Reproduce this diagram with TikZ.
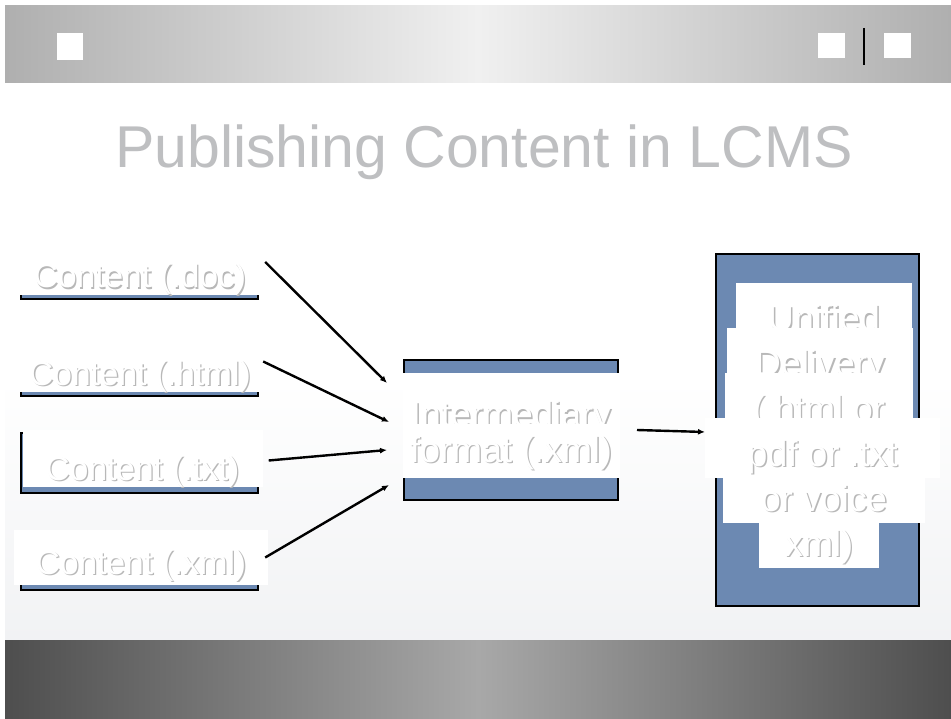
\documentclass[tikz,border=0pt]{standalone}
\usepackage{fontspec}
\setmainfont{Liberation Sans}
\usetikzlibrary{arrows.meta}
\definecolor{boxblue}{HTML}{6C89B2}
\definecolor{titlegray}{HTML}{BEBFC1}
\definecolor{shadowgray}{HTML}{B8B8B8}
\definecolor{barlight}{HTML}{F0F0F0}
\definecolor{bardark}{HTML}{AFAFAF}
\definecolor{footlight}{HTML}{A8A8A8}
\definecolor{footdark}{HTML}{4E4E4E}
\definecolor{slidegray}{HTML}{F1F2F4}
% white letters with a soft grey shadow
\newcommand{\emb}[1]{\rlap{\kern1.3pt\raisebox{-1.3pt}{\color{shadowgray}#1}}{\color{white}#1}}

\begin{document}
\begin{tikzpicture}[x=1pt,y=-1pt,
  bluebox/.style={draw=black,line width=2pt,fill=boxblue},
  cbox/.style={fill=white,inner sep=0pt,anchor=base,minimum width=240pt,
    text height=40pt,text depth=7pt,font=\fontsize{33.5}{34}\selectfont},
  lbox/.style={fill=white,inner sep=0pt,anchor=base,
    text height=48pt,text depth=9pt,font=\fontsize{36}{36}\selectfont},
  arr/.style={line width=2.4pt,-{Latex[length=7pt,width=6pt]}}]
  \useasboundingbox (0,0) rectangle (951,719);
  % slide background
  \fill[white] (0,0) rectangle (951,719);
  \shade[top color=white,bottom color=slidegray] (5,380) rectangle (951,640);
  % title bar and footer
  \shade[left color=bardark,right color=bardark,middle color=barlight] (5,6) rectangle (951,83);
  \fill[white] (57,33) rectangle (83,60);
  \foreach \x in {818,884}{
    \fill[white] (\x,33) rectangle (\x+27,58);
  }
  \draw[line width=2pt] (864,28) -- (864,65);
  \shade[left color=footdark,right color=footdark,middle color=footlight] (5,640) rectangle (951,719);
  \node[text=titlegray,anchor=base,font=\fontsize{59}{60}\selectfont] (title) at (484,168) {Publishing Content in LCMS};

  % source files
  \draw[bluebox] (21,256) rectangle (258,299);
  \draw[bluebox] (21,353) rectangle (258,396);
  \draw[bluebox] (21,433) rectangle (258,493);
  \draw[bluebox] (21,540) rectangle (258,590);
  \node[cbox] (doc) at (140,288) {\emb{Content (.doc)}};
  \node[cbox] (html) at (140,385) {\emb{Content (.html)}};
  \node[cbox,text height=50pt] (txt) at (142.5,480) {\emb{Content (.txt)}};
  \node[cbox,minimum width=254pt,text height=44pt,text depth=11pt] (xml) at (141,574) {\emb{Content (.xml)}};

  % intermediary
  \node[bluebox,minimum width=214pt,minimum height=140pt] (inter) at (511,430) {};
  \node[lbox,minimum width=217pt,text height=54pt,text depth=5pt] (int1) at (511,427) {\emb{Intermediary}};
  \node[lbox,minimum width=217pt,text height=38pt,text depth=16pt] (int2) at (511,462) {\emb{format (.xml)}};

  % delivery
  \node[bluebox,minimum width=203pt,minimum height=352pt] (deliv) at (817.5,430) {};
  \node[lbox,minimum width=176pt] (d1) at (824,331) {\emb{Unified}};
  \node[lbox,minimum width=186pt] (d2) at (820,376) {\emb{Delivery}};
  \node[lbox,minimum width=188pt] (d3) at (819,421) {\emb{(.html or}};
  \node[lbox,minimum width=235pt,text depth=12pt] (d4) at (822.5,466) {\emb{pdf or .txt}};
  \node[lbox,minimum width=202pt,text height=33pt,text depth=12pt] (d5) at (824,511) {\emb{or voice}};
  \node[lbox,minimum width=120pt,text height=33pt,text depth=12pt] (d6) at (819,556) {\emb{xml)}};

  \draw[arr] ([xshift=5pt,yshift=9.5pt]doc.east) -- ([xshift=-16pt,yshift=47pt]inter.west);
  \draw[arr] ([xshift=3pt,yshift=7pt]html.east) -- ([xshift=-14pt,yshift=8pt]inter.west);
  \draw[arr] ([xshift=6pt,yshift=-2pt]txt.east) -- ([xshift=-16pt,yshift=-20pt]inter.west);
  \draw[arr] ([xshift=-3pt]xml.east) -- ([xshift=-14pt,yshift=-55pt]inter.west);
  \draw[arr] ([xshift=18pt]inter.east) -- ([xshift=-10pt,yshift=-2pt]deliv.west);
\end{tikzpicture}
\end{document}
